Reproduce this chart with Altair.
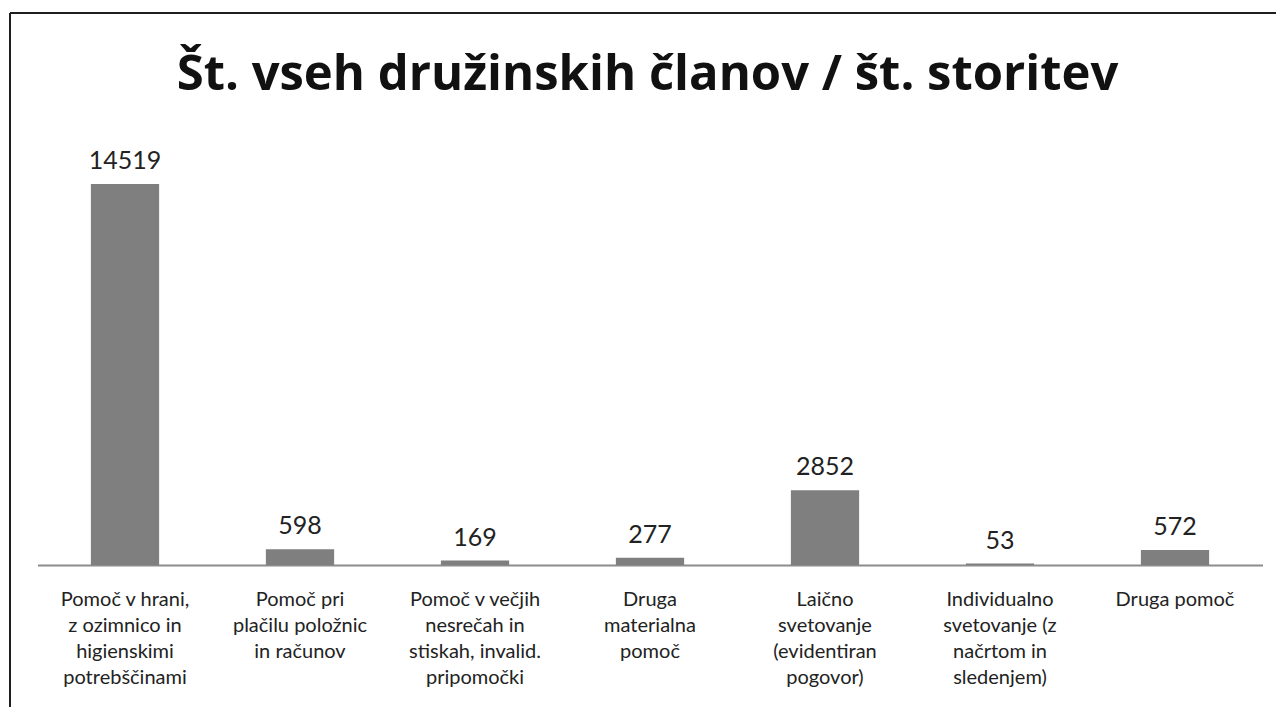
import altair as alt
import pandas as pd

categories = [
    "Pomoč v hrani,|z ozimnico in|higienskimi|potrebščinami",
    "Pomoč pri|plačilu položnic|in računov",
    "Pomoč v večjih|nesrečah in|stiskah, invalid.|pripomočki",
    "Druga|materialna|pomoč",
    "Laično|svetovanje|(evidentiran|pogovor)",
    "Individualno|svetovanje (z|načrtom in|sledenjem)",
    "Druga pomoč",
]
values = [14519, 598, 169, 277, 2852, 53, 572]
title_text = "Št. vseh družinskih članov / št. storitev"

df = pd.DataFrame({"cat": categories, "val": values})

FONT = "Lato"

x_enc = alt.X(
    "cat:N",
    sort=None,
    scale=alt.Scale(paddingInner=0.61, paddingOuter=0.305),
    axis=alt.Axis(
        title=None,
        labelAngle=0,
        labelExpr="split(datum.label, '|')",
        labelFont=FONT,
        labelFontSize=20,
        labelColor="#222222",
        labelLineHeight=26,
        labelBaseline="top",
        labelPadding=24,
        labelLimit=220,
        ticks=False,
        domainColor="#8c8c8c",
        domainWidth=2,
    ),
)
y_enc = alt.Y("val:Q", scale=alt.Scale(domain=[0, 14519], nice=False), axis=None)

bars = alt.Chart(df).mark_bar(color="#7f7f7f").encode(x=x_enc, y=y_enc)
labels = alt.Chart(df).mark_text(
    font=FONT, fontSize=25, color="#222222", baseline="alphabetic", dy=-15
).encode(x=x_enc, y=y_enc, text="val:Q")

title_df = pd.DataFrame({"t": [title_text]})
title = alt.Chart(title_df).mark_text(
    font="Open Sans", fontSize=49, fontWeight="bold", color="#111111",
    align="center", baseline="alphabetic",
).encode(x=alt.value(610), y=alt.value(-94), text="t:N")

frame_left = alt.Chart(df).mark_rule(color="#1e1e1e", strokeWidth=2).encode(
    x=alt.value(-27.5), y=alt.value(-171), y2=alt.value(530)
)
frame_top = alt.Chart(df).mark_rule(color="#1e1e1e", strokeWidth=2).encode(
    x=alt.value(-27.5), x2=alt.value(1250), y=alt.value(-171)
)

chart = (
    alt.layer(frame_left, frame_top, bars, labels, title)
    .properties(
        width=1225,
        height=381,
        autosize=alt.AutoSizeParams(type="none"),
        padding={"left": 29.5, "top": 176, "right": 13.5, "bottom": 142},
    )
    .configure_view(stroke=None)
)

chart.save("out.html", embed_options={"renderer": "svg", "actions": False})
